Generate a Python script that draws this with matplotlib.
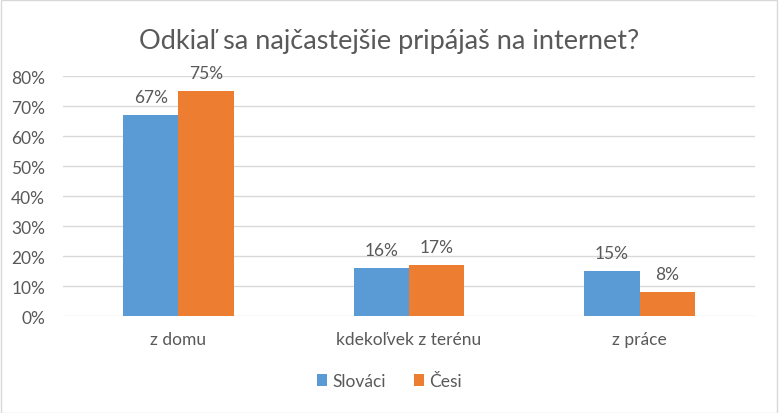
import matplotlib.pyplot as plt
import numpy as np
from matplotlib.patches import Rectangle

categories = ['z domu', 'kdekoľvek z terénu', 'z práce']
slovaci = [0.67, 0.16, 0.15]
cesi = [0.75, 0.17, 0.08]
series_names = ['Slováci', 'Česi']
yticks = [0, 0.1, 0.2, 0.3, 0.4, 0.5, 0.6, 0.7, 0.8]

plt.rcParams['font.family'] = ['Lato', 'DejaVu Sans']
txt = '#595959'
blue = '#5B9BD5'
orange = '#ED7D31'

fig = plt.figure(figsize=(7.79, 4.14), dpi=100)
ax = fig.add_axes([0.081, 0.234, 0.888, 0.58])

x = np.arange(len(categories))
w = 0.239
b1 = ax.bar(x - w/2, slovaci, w, color=blue, label=series_names[0], zorder=3)
b2 = ax.bar(x + w/2, cesi, w, color=orange, label=series_names[1], zorder=3)

for bars in (b1, b2):
    for r in bars:
        v = r.get_height()
        ax.text(r.get_x() + r.get_width()/2, v + 0.033, f'{v*100:.0f}%',
                ha='center', va='bottom', fontsize=12.5, color=txt)

ax.set_xlim(-0.5, 2.5)
ax.set_ylim(0, 0.8)
ax.set_yticks(yticks)
ax.set_yticklabels([f'{t*100:.0f}%' for t in yticks])
ax.set_xticks(x)
ax.set_xticklabels(categories)
ax.tick_params(axis='both', length=0, labelsize=12.5, colors=txt)
ax.tick_params(axis='y', pad=13)
ax.tick_params(axis='x', pad=11)
ax.grid(axis='y', color='#D9D9D9', linewidth=1, zorder=0)
for s in ax.spines.values():
    s.set_visible(False)

fig.text(0.5, 0.9, 'Odkiaľ sa najčastejšie pripájaš na internet?',
         ha='center', va='center', fontsize=19.5, color=txt)

leg = fig.legend(loc='center', bbox_to_anchor=(0.5, 0.077), ncol=2, frameon=False,
                 fontsize=12.5, handlelength=0.6, handleheight=0.6, handletextpad=0.3,
                 columnspacing=1.6)
for t in leg.get_texts():
    t.set_color(txt)

fig.patches.append(Rectangle((0.001, 0.001), 0.997, 0.997, transform=fig.transFigure,
                             fill=False, edgecolor='#D9D9D9', linewidth=1))

fig.savefig('out.png', dpi=100)
